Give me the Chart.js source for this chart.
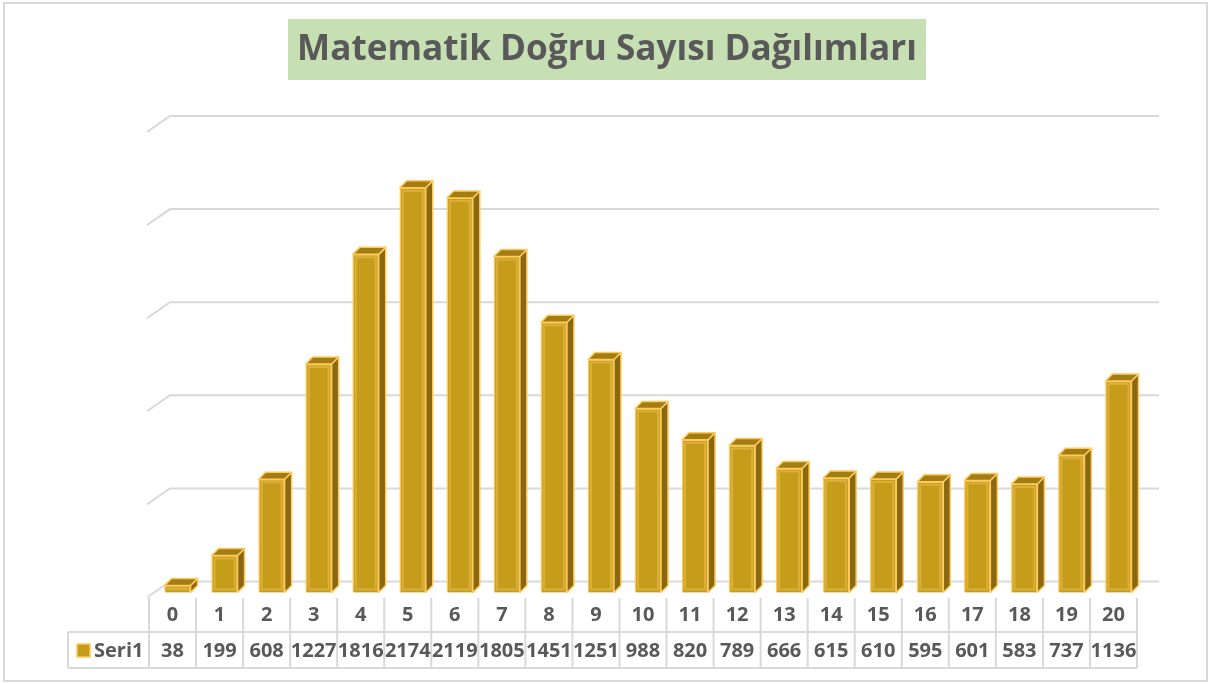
<!DOCTYPE html>
<html>
<head>
<meta charset="utf-8">
<script src="https://cdn.jsdelivr.net/npm/chart.js@4/dist/chart.umd.min.js"></script>
<style>
  html, body { margin: 0; padding: 0; background: #fff; }
  canvas { display: block; }
</style>
</head>
<body>
<canvas id="chart" width="1210" height="684"></canvas>
<script>
// Veriler
const chartTitle = 'Matematik Doğru Sayısı Dağılımları';
const seriesName = 'Seri1';
const categories = ['0', '1', '2', '3', '4', '5', '6', '7', '8', '9', '10',
  '11', '12', '13', '14', '15', '16', '17', '18', '19', '20'];
const values = [38, 199, 608, 1227, 1816, 2174, 2119, 1805, 1451, 1251, 988,
  820, 789, 666, 615, 610, 595, 601, 583, 737, 1136];
const yMin = 0;
const yMax = 2500;
const yStep = 500;

// Renkler
const frontColor = '#c69c1b';
const sideColor = '#8a6812';
const topColor = '#a27d14';
const edgeColor = '#ffca5c';
const gridColor = '#d9d9d9';
const textColor = '#595959';

// 3B görünüm
const depth = { x: 21, y: -16 };   // zemin/duvar derinliği
const barDepth = { x: 7, y: -7 };   // sütun derinliği
const barShift = { x: 5, y: -5 };   // sütunun ön yüzü

const threeD = {
  id: 'threeD',
  beforeDraw(chart) {
    const ctx = chart.ctx;
    const area = chart.chartArea;
    ctx.save();

    // dış çerçeve
    ctx.strokeStyle = gridColor;
    ctx.lineWidth = 2;
    ctx.strokeRect(4, 3, chart.width - 7, chart.height - 6);

    // başlık
    let size = 40;
    ctx.font = `bold ${size}px "Open Sans"`;
    const w = ctx.measureText(chartTitle).width;
    size = size * 620 / w;
    ctx.font = `bold ${size}px "Open Sans"`;
    ctx.fillStyle = '#c6e0b4';
    ctx.fillRect(288, 19, 638, 61);
    ctx.fillStyle = textColor;
    ctx.textAlign = 'center';
    ctx.textBaseline = 'middle';
    ctx.fillText(chartTitle, 607, 50);

    // ızgara çizgileri
    const y = chart.scales.y;
    ctx.strokeStyle = gridColor;
    ctx.lineWidth = 2;
    y.ticks.forEach(t => {
      const py = y.getPixelForValue(t.value);
      ctx.beginPath();
      ctx.moveTo(area.left - 2, py);
      ctx.lineTo(area.left + depth.x, py + depth.y);
      ctx.lineTo(area.right + depth.x + 1, py + depth.y);
      ctx.stroke();
    });

    // veri tablosu
    const x = chart.scales.x;
    const cw = (area.right - area.left) / categories.length;
    const row1 = area.bottom + 0.5;
    const row2 = row1 + 34;
    const row3 = row2 + 36;
    ctx.beginPath();
    for (let i = 0; i <= categories.length; i++) {
      const px = i < categories.length ? x.getPixelForValue(i) - cw / 2 : area.right;
      ctx.moveTo(px, row1);
      ctx.lineTo(px, row3);
    }
    ctx.moveTo(68, row2);
    ctx.lineTo(area.right, row2);
    ctx.moveTo(68, row3);
    ctx.lineTo(area.right, row3);
    ctx.moveTo(68, row2);
    ctx.lineTo(68, row3);
    ctx.stroke();

    ctx.fillStyle = textColor;
    ctx.font = 'bold 20px "Open Sans"';
    ctx.textAlign = 'center';
    categories.forEach((c, i) => {
      const px = x.getPixelForValue(i);
      ctx.fillText(c, px, (row1 + row2) / 2);
      ctx.fillText(String(values[i]), px, (row2 + row3) / 2 + 1);
    });

    // lejant anahtarı
    ctx.fillStyle = frontColor;
    ctx.strokeStyle = edgeColor;
    ctx.lineWidth = 1.5;
    ctx.fillRect(77, 644, 13, 13);
    ctx.strokeRect(77, 644, 13, 13);
    ctx.fillStyle = textColor;
    ctx.textAlign = 'left';
    ctx.fillText(seriesName, 94, (row2 + row3) / 2 + 1);

    ctx.restore();
  },
  beforeDatasetsDraw(chart) {
    chart.ctx.save();
    chart.ctx.translate(barShift.x, barShift.y);
  },
  afterDatasetsDraw(chart) {
    const ctx = chart.ctx;
    const meta = chart.getDatasetMeta(0);
    ctx.lineWidth = 1.5;
    ctx.strokeStyle = edgeColor;
    ctx.lineJoin = 'round';
    meta.data.forEach(bar => {
      const l = bar.x - bar.width / 2;
      const r = bar.x + bar.width / 2;
      const t = bar.y;
      const b = bar.base;
      // yan yüz
      ctx.beginPath();
      ctx.moveTo(r, t);
      ctx.lineTo(r + barDepth.x, t + barDepth.y);
      ctx.lineTo(r + barDepth.x, b + barDepth.y);
      ctx.lineTo(r, b);
      ctx.closePath();
      ctx.fillStyle = sideColor;
      ctx.fill();
      ctx.stroke();
      // üst yüz
      ctx.beginPath();
      ctx.moveTo(l, t);
      ctx.lineTo(l + barDepth.x, t + barDepth.y);
      ctx.lineTo(r + barDepth.x, t + barDepth.y);
      ctx.lineTo(r, t);
      ctx.closePath();
      ctx.fillStyle = topColor;
      ctx.fill();
      ctx.stroke();
      // ön yüzde açık kenar
      ctx.save();
      ctx.strokeStyle = 'rgba(255, 214, 120, 0.35)';
      ctx.lineWidth = 2;
      ctx.strokeRect(l + 3, t + 3, bar.width - 6, b - t - 6);
      ctx.restore();
    });
    ctx.restore();
  }
};

new Chart(document.getElementById('chart'), {
  type: 'bar',
  data: {
    labels: categories,
    datasets: [{
      label: seriesName,
      data: values,
      backgroundColor: frontColor,
      borderColor: edgeColor,
      borderWidth: 1.5,
      barThickness: 26,
      clip: false
    }]
  },
  options: {
    responsive: false,
    devicePixelRatio: 1,
    animation: false,
    layout: {
      padding: { top: 132, bottom: 86.5, left: 149, right: 73 }
    },
    plugins: {
      legend: { display: false },
      title: { display: false },
      tooltip: { enabled: false }
    },
    scales: {
      x: { display: false },
      y: {
        display: false,
        min: yMin,
        max: yMax,
        ticks: { stepSize: yStep }
      }
    }
  },
  plugins: [threeD]
});
</script>
</body>
</html>
